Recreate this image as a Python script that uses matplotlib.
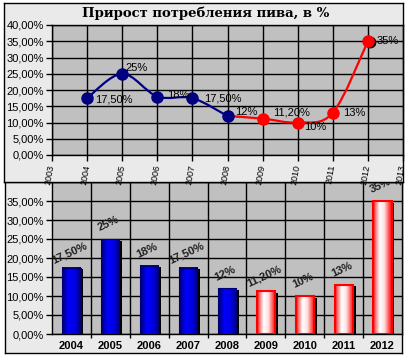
import numpy as np
import matplotlib
matplotlib.use('Agg')
import matplotlib.pyplot as plt
from matplotlib.path import Path
from matplotlib.patches import PathPatch, Rectangle
from matplotlib.colors import LinearSegmentedColormap
from matplotlib.transforms import ScaledTranslation

# Datos
years = [2004, 2005, 2006, 2007, 2008, 2009, 2010, 2011, 2012]
growth = [17.5, 25, 18, 17.5, 12, 11.2, 10, 13, 35]
labels = ['17,50%', '25%', '18%', '17,50%', '12%', '11,20%', '10%', '13%', '35%']
split = 4  # 2008: fin de la serie azul, inicio de la roja
yticks = [0, 5, 10, 15, 20, 25, 30, 35, 40]
ytick_labels = ['0,00%', '5,00%', '10,00%', '15,00%', '20,00%', '25,00%',
                '30,00%', '35,00%', '40,00%']
top_years = list(range(2003, 2014))
title = 'Прирост потребления пива, в %'

W, H = 409, 361
plt.rcParams['font.family'] = ['Liberation Sans', 'DejaVu Sans']
fig = plt.figure(figsize=(W / 100, H / 100), dpi=100)
fig.patch.set_facecolor('white')


def px_rect(x0, y0, x1, y1):
    return [x0 / W, 1 - y1 / H, (x1 - x0) / W, (y1 - y0) / H]


def frame(rect):
    a = fig.add_axes(rect)
    a.set_facecolor('#EAEAEA')
    a.set_xticks([])
    a.set_yticks([])
    for s in a.spines.values():
        s.set_color('black')
        s.set_linewidth(1)
    return a


def smooth_path(xs, ys):
    # curva suavizada tipo Excel (Bezier con tangentes de Catmull-Rom)
    verts = [(xs[0], ys[0])]
    codes = [Path.MOVETO]
    n = len(xs)
    for i in range(n - 1):
        p0 = i - 1 if i > 0 else i
        p3 = i + 2 if i + 2 < n else i + 1
        c1 = (xs[i] + (xs[i + 1] - xs[p0]) / 6, ys[i] + (ys[i + 1] - ys[p0]) / 6)
        c2 = (xs[i + 1] - (xs[p3] - xs[i]) / 6, ys[i + 1] - (ys[p3] - ys[i]) / 6)
        verts += [c1, c2, (xs[i + 1], ys[i + 1])]
        codes += [Path.CURVE4] * 3
    return Path(verts, codes)


# ---------- Grafico inferior (se dibuja primero, el marco superior lo tapa) ----------
bottom_frame = frame(px_rect(5, 182, 402, 353))
ax2 = fig.add_axes(px_rect(52, 182, 402, 334))
ax2.set_facecolor('#C0C0C0')
n = len(years)
ax2.set_yticks(yticks)
# el rotulo de 40% queda tapado por el grafico superior
ax2.set_yticklabels(ytick_labels[:-1] + [''], fontsize=8)
ax2.set_xticks(range(n))
ax2.set_xticklabels([str(y) for y in years], fontsize=8, fontweight='bold')
ax2.set_xticks(np.arange(0.5, n - 1, 1), minor=True)
ax2.tick_params(axis='x', which='major', length=0, pad=5)
ax2.tick_params(axis='x', which='minor', length=3, width=1, color='black')
ax2.tick_params(axis='y', length=4, width=1, color='black', pad=2)
ax2.grid(True, axis='y', color='black', linewidth=1)
ax2.grid(True, axis='x', which='minor', color='black', linewidth=1)
ax2.set_axisbelow(True)
for s in ax2.spines.values():
    s.set_color('black')
    s.set_linewidth(1)

blue_cmap = LinearSegmentedColormap.from_list('b', [
    (0, '#000050'), (0.12, '#0000A0'), (0.35, '#0000FF'), (0.7, '#0000E0'),
    (0.9, '#0000A0'), (1, '#000060')])
red_cmap = LinearSegmentedColormap.from_list('r', [
    (0, '#FF0000'), (0.12, '#FF7070'), (0.35, '#FFFFFF'), (0.6, '#FFE0E0'),
    (0.85, '#FF5050'), (1, '#FF0000')])
grad = np.linspace(0, 1, 64).reshape(1, -1)
bw = 0.47
for i, v in enumerate(growth):
    x0 = i - bw / 2
    ax2.add_patch(Rectangle((x0 + 0.07, 0), bw, v - 0.4, facecolor='black',
                            edgecolor='none', zorder=2))
    cmap = blue_cmap if i <= split else red_cmap
    ax2.imshow(grad, extent=(x0, x0 + bw, 0, v), aspect='auto', cmap=cmap,
               zorder=3, interpolation='bilinear')
    edge = '#000070' if i <= split else '#FF0000'
    ax2.add_patch(Rectangle((x0, 0), bw, v, facecolor='none', edgecolor=edge,
                            linewidth=1.5 if i > split else 0.8, zorder=4))
    ax2.annotate(labels[i], (i, v), xytext=(-2, 15), textcoords='offset pixels',
                 ha='center', va='center', rotation=25, fontsize=8,
                 fontweight='bold', color='#202020', zorder=5)

ax2.set_xlim(-0.5, n - 0.5)
ax2.set_ylim(0, 40)

# ---------- Grafico superior ----------
top_frame = frame(px_rect(4, 3, 403, 182))
ax1 = fig.add_axes(px_rect(52, 25, 403, 155))
ax1.set_facecolor('#C0C0C0')
ax1.set_xlim(2003, 2013)
ax1.set_ylim(0, 40)
ax1.set_yticks(yticks)
ax1.set_yticklabels(ytick_labels, fontsize=8)
ax1.set_xticks(top_years)
ax1.set_xticklabels([str(y) for y in top_years], fontsize=6.5, rotation=80,
                    rotation_mode='anchor', ha='right', va='center')
ax1.tick_params(axis='y', length=4, width=1, color='black', pad=2)
ax1.tick_params(axis='x', length=4, width=1, color='black', pad=3)
ax1.grid(True, color='black', linewidth=1)
ax1.set_axisbelow(True)
for s in ax1.spines.values():
    s.set_color('black')
    s.set_linewidth(1)

bx, by = years[:split + 1], growth[:split + 1]
rx, ry = years[split:], growth[split:]
ax1.add_patch(PathPatch(smooth_path(rx, ry), fill=False, edgecolor='#FF0000',
                        linewidth=1.6, zorder=3, capstyle='round'))
ax1.add_patch(PathPatch(smooth_path(bx, by), fill=False, edgecolor='#000080',
                        linewidth=1.6, zorder=3, capstyle='round'))
ax1.plot(years[-1:], growth[-1:], 'o', color='black', markersize=7.5, zorder=3.5,
         transform=ax1.transData + ScaledTranslation(2 / 100, -1 / 100, fig.dpi_scale_trans))
ax1.plot(rx[1:], ry[1:], 'o', color='#FF0000', markersize=8, zorder=4)
ax1.plot(bx, by, 'o', color='#000080', markersize=8, zorder=4)

offsets = [(8, -1), (3, 6), (10, 2), (12, 0), (8, 4), (10, 6), (6, -5), (10, 0), (9, 0)]
for x, y, lab, off in zip(years, growth, labels, offsets):
    ax1.annotate(lab, (x, y), xytext=off, textcoords='offset pixels',
                 ha='left', va='center', fontsize=8, color='black', zorder=5)

fig.text(206 / W, 1 - 13 / H, title, ha='center', va='center', fontsize=9.5,
         fontweight='bold', family='DejaVu Serif')

fig.savefig('out.png', dpi=100, facecolor='white')
